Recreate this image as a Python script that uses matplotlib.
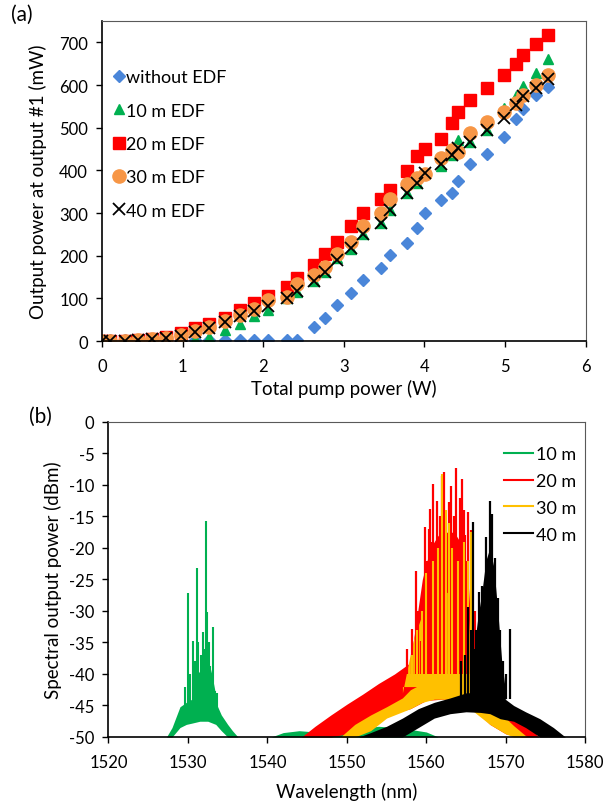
import matplotlib
matplotlib.use('Agg')
import matplotlib.pyplot as plt

plt.rcParams['font.family'] = ['Lato', 'DejaVu Sans']
plt.rcParams['axes.unicode_minus'] = False

# ---- (a) output power vs pump power ----
pump = [0, 0.1, 0.28, 0.45, 0.62, 0.8, 0.98, 1.15, 1.33, 1.52, 1.71, 1.89, 2.06, 2.29,
        2.42, 2.63, 2.77, 2.91, 3.09, 3.24, 3.46, 3.57, 3.78, 3.91, 4.01, 4.21, 4.34,
        4.42, 4.57, 4.78, 4.99, 5.13, 5.22, 5.38, 5.53]
p_none = [2, 2, 2, 2, 2, 2, 2, 2, 2, 2, 2, 2, 2, 2, 2, 32, 55, 84, 112, 143, 172, 201,
          229, 264, 301, 330, 346, 376, 416, 439, 478, 521, 543, 576, 595]
p_10 = [0, 0, 0, 0, 0, 0, 2, 4, 10, 25, 39, 59, 72, 100, 115, 140, 162, 195, 215, 250,
        277, 308, 347, 370, 393, 410, 437, 471, 466, 494, 546, 574, 597, 628, 661]
p_20 = [0, 0, 0, 2, 5, 10, 18, 30, 41, 54, 73, 88, 105, 126, 148, 178, 205, 231, 269,
        299, 332, 353, 398, 433, 449, 474, 511, 536, 566, 592, 623, 650, 671, 696, 718]
p_30 = [0, 0, 0, 2, 5, 8, 14, 24, 33, 47, 62, 76, 95, 103, 134, 154, 173, 203, 233, 269,
        299, 332, 367, 382, 392, 429, 447, 443, 487, 513, 537, 558, 576, 600, 624]
p_40 = [0, 0, 0, 2, 5, 8, 12, 22, 31, 45, 58, 71, 83, 100, 117, 141, 162, 191, 219, 250,
        277, 308, 347, 370, 393, 414, 437, 453, 466, 494, 523, 554, 575, 593, 613]

# ---- (b) spectra: band envelopes and spike peaks (nm, dBm) ----
g_wl = [1527.3, 1528.0, 1529.0, 1529.8, 1530.5, 1531.5, 1532.5, 1533.5, 1534.2, 1535.0, 1535.6, 1536.3]
g_hi = [-50, -48.5, -45.2, -44.5, -44.0, -43.5, -43.8, -44.5, -46.5, -48.0, -49.0, -50]
g_lo = [-50, -50, -48.5, -48, -47.8, -47.5, -47.5, -48, -49, -50, -50, -50]
g_core_wl = [1530.6, 1531.2, 1531.8, 1532.4, 1533.0, 1533.6]
g_core = [-44, -40, -39, -37, -40, -44]
g2_wl = [1540.5, 1542, 1544, 1546, 1548, 1550, 1552, 1554, 1556, 1558, 1560, 1561.5]
g2_hi = [-50, -49.3, -49, -49.2, -49.5, -49.2, -48.6, -48.3, -48.5, -48.8, -49.2, -50]
g_pk_wl = [1529.6, 1530.05, 1530.3, 1530.6, 1530.9, 1531.2, 1531.3, 1531.6, 1531.9, 1532.0,
           1532.3, 1532.4, 1532.6, 1532.8, 1533.1, 1533.4, 1533.7]
g_pk = [-42, -27.2, -40, -34.8, -38, -23.1, -35, -37, -33.4, -36, -15.7, -30.2, -35,
        -38.7, -32.6, -42.7, -43]

r_wl = [1544.3, 1546, 1548, 1550, 1552, 1554, 1556, 1558, 1560, 1562, 1564, 1566, 1568,
        1570, 1572, 1573, 1574.2]
r_hi = [-50, -48.3, -46.5, -44.8, -43.2, -41.5, -40.0, -38.2, -36.5, -36, -36.5, -38,
        -42, -45, -47, -48.5, -50]
r_lo = [-50, -50, -50, -49.5, -48.5, -47.5, -46.2, -45.5, -44.2, -44, -44, -45.5, -48,
        -49.5, -50, -50, -50]
r_core_wl = [1558.0, 1558.7, 1559.5, 1560.5, 1561.5, 1562.5, 1563.5, 1564.5, 1565.3, 1566]
r_core = [-38, -32, -25, -20, -18, -17.5, -17.5, -19.5, -26, -40]
r_pk_wl = [1557.0, 1557.6, 1558.2, 1558.7, 1559.0, 1559.3, 1559.6, 1559.9, 1560.1, 1560.3,
           1560.5, 1560.7, 1560.9, 1561.1, 1561.4, 1561.7, 1561.95, 1562.2, 1562.5, 1562.8,
           1563.1, 1563.3, 1563.5, 1563.8, 1564.0, 1564.2, 1564.5, 1564.7, 1564.9, 1565.1,
           1565.3, 1565.6, 1566.1, 1567.2]
r_pk = [-40, -36, -32.9, -23.6, -30, -34.7, -28, -16.7, -22, -17.0, -13.8, -19, -9.8, -20,
        -12.5, -15, -8.5, -8.0, -16, -12.7, -10.1, -18, -15, -7.3, -20, -12, -9.0, -14,
        -18, -22, -14.3, -17.2, -30, -30]

y_wl = [1549.2, 1551, 1553, 1555, 1557, 1558, 1559.5, 1561, 1563, 1565, 1566, 1567, 1568,
        1570, 1571, 1572.7]
y_hi = [-50, -48, -46.5, -45.2, -43.8, -42.5, -41.5, -41, -41, -41.5, -42.5, -44, -45,
        -47, -48.2, -50]
y_lo = [-50, -50, -49, -47, -46, -45.5, -44.5, -44, -44, -45, -46, -47, -48, -49.5, -50, -50]
y_core_wl = [1557.0, 1557.8, 1558.5, 1559.5, 1560.5, 1561.5, 1562.5, 1563.5, 1564.5,
             1565.3, 1566]
y_core = [-43, -38, -34, -30.5, -29, -27.5, -27, -27.5, -28.5, -31, -44]
y_pk_wl = [1558.2, 1558.8, 1559.5, 1560.0, 1560.8, 1561.5, 1562.0, 1562.5, 1562.8,
           1563.3, 1564.0, 1564.7, 1565.3, 1565.6]
y_pk = [-37, -33, -30, -24, -22, -20, -8.3, -14, -16, -20, -22, -19, -22, -17.5]

k_wl = [1551.5, 1553, 1555, 1557, 1559, 1561, 1563, 1565, 1566.8, 1568, 1569.3, 1571,
        1572.5, 1574.3, 1576, 1577.5]
k_hi = [-50, -49.3, -48.3, -47.0, -45.5, -44.5, -43.8, -43.0, -42.9, -42.5, -43.4, -45,
        -46, -47.1, -48.5, -50]
k_lo = [-50, -50, -50, -50, -48.5, -47, -46.3, -46.0, -46.1, -46.3, -47.1, -47.5, -48.5,
        -50, -50, -50]
k_core_wl = [1565.5, 1566.0, 1566.5, 1567.0, 1567.5, 1568.0, 1568.5, 1569.0, 1569.5, 1570.0]
k_core = [-43, -36, -31, -27, -22, -20, -23, -30, -38, -43]
k_pk_wl = [1564.4, 1564.9, 1565.3, 1565.6, 1565.9, 1566.0, 1566.3, 1566.6, 1566.8, 1567.0,
           1567.3, 1567.5, 1567.8, 1568.0, 1568.3, 1568.5, 1568.7, 1569.0, 1569.3, 1569.6,
           1570.0, 1570.6]
k_pk = [-38, -37, -29.4, -33, -15.9, -36, -33, -27, -31, -26, -29.9, -18.3, -22, -12.5,
        -14.6, -25, -21.6, -28, -33.0, -38, -40, -32.8]

fig = plt.figure(figsize=(6.07, 8.04), dpi=100)
ax1 = fig.add_axes([0.168, 0.5746, 0.797, 0.398])
ax2 = fig.add_axes([0.1787, 0.0821, 0.7853, 0.3918])

ax1.plot(pump, p_none, 'D', color='#4A86D9', ms=6.5, mec='#4A86D9', label='without EDF')
ax1.plot(pump, p_10, '^', color='#00B050', ms=7.5, label='10 m EDF')
ax1.plot(pump, p_20, 's', color='#FF0000', ms=8, label='20 m EDF')
ax1.plot(pump, p_30, 'o', color='#F79646', ms=9.5, label='30 m EDF')
ax1.plot(pump, p_40, 'x', color='black', ms=8, mew=1.3, label='40 m EDF')
ax1.set_xlim(0, 6)
ax1.set_ylim(0, 750)
ax1.set_xticks(range(0, 7))
ax1.set_yticks(range(0, 800, 100))
ax1.set_xlabel('Total pump power (W)', fontsize=13.5, labelpad=3)
ax1.set_ylabel('Output power at output #1 (mW)', fontsize=13.5, labelpad=9)
ax1.legend(loc='upper left', bbox_to_anchor=(-0.01, 0.9), frameon=False, fontsize=13,
           handlelength=0.6, handletextpad=0.1, labelspacing=0.96, markerscale=1)

# spectra, drawn in legend order so 40 m sits on top
ax2.fill_between(g_wl, g_lo, g_hi, color='#00B050', lw=0)
ax2.fill_between(g2_wl, -50, g2_hi, color='#00B050', lw=0)
ax2.fill_between(g_core_wl, -46, g_core, color='#00B050', lw=0)
ax2.vlines(g_pk_wl, -46, g_pk, color='#00B050', lw=1.5)
ax2.plot([], [], color='#00B050', lw=1.5, label='10 m')

ax2.fill_between(r_wl, r_lo, r_hi, color='#FF0000', lw=0)
ax2.fill_between(r_core_wl, -40, r_core, color='#FF0000', lw=0)
ax2.vlines(r_pk_wl, -40, r_pk, color='#FF0000', lw=1.6)
ax2.plot([], [], color='#FF0000', lw=1.5, label='20 m')

ax2.fill_between(y_wl, y_lo, y_hi, color='#FFC000', lw=0)
ax2.fill_between(y_core_wl, -42, y_core, color='#FFC000', lw=0)
ax2.vlines(y_pk_wl, -40, y_pk, color='#FFC000', lw=1.5)
ax2.plot([], [], color='#FFC000', lw=1.5, label='30 m')

ax2.fill_between(k_wl, k_lo, k_hi, color='black', lw=0)
ax2.fill_between(k_core_wl, -44, k_core, color='black', lw=0)
ax2.vlines(k_pk_wl, -44, k_pk, color='black', lw=1.6)
ax2.plot([], [], color='black', lw=1.5, label='40 m')

ax2.set_xlim(1520, 1580)
ax2.set_ylim(-50, 0)
ax2.set_xticks(range(1520, 1590, 10))
ax2.set_yticks(range(-50, 5, 5))
ax2.set_xlabel('Wavelength (nm)', fontsize=13.5, labelpad=8)
ax2.set_ylabel('Spectral output power (dBm)', fontsize=13.5, labelpad=5)
ax2.legend(loc='upper right', bbox_to_anchor=(1.015, 0.975), frameon=False, fontsize=13,
           handlelength=1.6, handletextpad=0.15, labelspacing=0.6)

for ax in (ax1, ax2):
    ax.tick_params(direction='out', length=4, width=1, labelsize=12, color='black')
    ax.tick_params(axis='x', pad=8.5)
    ax.tick_params(axis='y', pad=6)
    for s in ('top', 'right'):
        ax.spines[s].set_color('#595959')
        ax.spines[s].set_linewidth(0.8)
    for s in ('left', 'bottom'):
        ax.spines[s].set_color('black')
        ax.spines[s].set_linewidth(1.2)

fig.text(0.036, 0.981, '(a)', fontsize=15, ha='center', va='center')
fig.text(0.066, 0.481, '(b)', fontsize=15, ha='center', va='center')

fig.savefig('out.png', dpi=100)
